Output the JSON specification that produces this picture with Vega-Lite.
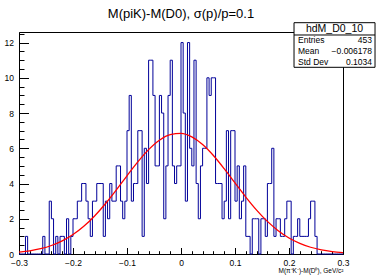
{
  "$schema": "https://vega.github.io/schema/vega-lite/v6.json",
  "autosize": {"type": "none"},
  "width": 324,
  "height": 222,
  "padding": {"left": 19, "top": 32, "right": 33, "bottom": 22},
  "background": "white",
  "title": {"text": "M(piK)-M(D0), σ(p)/p=0.1", "font": "Liberation Sans", "fontSize": 13, "fontWeight": "normal", "color": "black", "anchor": "middle", "frame": "group", "baseline": "alphabetic", "offset": 5.5, "dy": 14},
  "config": {
    "view": {"stroke": "black", "strokeWidth": 1},
    "axis": {"labelFont": "Liberation Sans", "labelFontSize": 8.5, "labelColor": "black", "tickColor": "black", "domainColor": "black", "grid": false, "tickWidth": 1, "domainWidth": 1}
  },
  "datasets": {
    "hist": [
      {"x": -0.3, "n": 0}, {"x": -0.296, "n": 0}, {"x": -0.292, "n": 0}, {"x": -0.288, "n": 1}, {"x": -0.284, "n": 0},
      {"x": -0.28, "n": 0}, {"x": -0.276, "n": 0}, {"x": -0.272, "n": 0}, {"x": -0.268, "n": 0}, {"x": -0.264, "n": 0},
      {"x": -0.26, "n": 0}, {"x": -0.256, "n": 1}, {"x": -0.252, "n": 0}, {"x": -0.248, "n": 0}, {"x": -0.244, "n": 3},
      {"x": -0.24, "n": 2}, {"x": -0.236, "n": 0}, {"x": -0.232, "n": 1}, {"x": -0.228, "n": 0}, {"x": -0.224, "n": 1},
      {"x": -0.22, "n": 1}, {"x": -0.216, "n": 0}, {"x": -0.212, "n": 2}, {"x": -0.208, "n": 0}, {"x": -0.204, "n": 1},
      {"x": -0.2, "n": 2}, {"x": -0.196, "n": 2}, {"x": -0.192, "n": 3}, {"x": -0.188, "n": 3}, {"x": -0.184, "n": 4},
      {"x": -0.18, "n": 4}, {"x": -0.176, "n": 3}, {"x": -0.172, "n": 2}, {"x": -0.168, "n": 1}, {"x": -0.164, "n": 3},
      {"x": -0.16, "n": 3}, {"x": -0.156, "n": 4}, {"x": -0.152, "n": 4}, {"x": -0.148, "n": 4}, {"x": -0.144, "n": 1},
      {"x": -0.14, "n": 3}, {"x": -0.136, "n": 2}, {"x": -0.132, "n": 4}, {"x": -0.128, "n": 3}, {"x": -0.124, "n": 3},
      {"x": -0.12, "n": 5}, {"x": -0.116, "n": 5}, {"x": -0.112, "n": 3}, {"x": -0.108, "n": 2}, {"x": -0.104, "n": 3},
      {"x": -0.1, "n": 7}, {"x": -0.096, "n": 9}, {"x": -0.092, "n": 3}, {"x": -0.088, "n": 4}, {"x": -0.084, "n": 4},
      {"x": -0.08, "n": 7}, {"x": -0.076, "n": 7}, {"x": -0.072, "n": 1}, {"x": -0.068, "n": 6}, {"x": -0.064, "n": 4},
      {"x": -0.06, "n": 11}, {"x": -0.056, "n": 11}, {"x": -0.052, "n": 9}, {"x": -0.048, "n": 5}, {"x": -0.044, "n": 5},
      {"x": -0.04, "n": 9}, {"x": -0.036, "n": 8}, {"x": -0.032, "n": 2}, {"x": -0.028, "n": 5}, {"x": -0.024, "n": 9},
      {"x": -0.02, "n": 11}, {"x": -0.016, "n": 5}, {"x": -0.012, "n": 4}, {"x": -0.008, "n": 5}, {"x": -0.004, "n": 5},
      {"x": 0, "n": 12}, {"x": 0.004, "n": 8}, {"x": 0.008, "n": 3}, {"x": 0.012, "n": 12}, {"x": 0.016, "n": 6},
      {"x": 0.02, "n": 5}, {"x": 0.024, "n": 11}, {"x": 0.028, "n": 4}, {"x": 0.032, "n": 2}, {"x": 0.036, "n": 5},
      {"x": 0.04, "n": 6}, {"x": 0.044, "n": 6}, {"x": 0.048, "n": 10}, {"x": 0.052, "n": 9}, {"x": 0.056, "n": 10},
      {"x": 0.06, "n": 10}, {"x": 0.064, "n": 4}, {"x": 0.068, "n": 4}, {"x": 0.072, "n": 4}, {"x": 0.076, "n": 2},
      {"x": 0.08, "n": 3}, {"x": 0.084, "n": 7}, {"x": 0.088, "n": 2}, {"x": 0.092, "n": 7}, {"x": 0.096, "n": 7},
      {"x": 0.1, "n": 3}, {"x": 0.104, "n": 5}, {"x": 0.108, "n": 2}, {"x": 0.112, "n": 3}, {"x": 0.116, "n": 5},
      {"x": 0.12, "n": 1}, {"x": 0.124, "n": 1}, {"x": 0.128, "n": 0}, {"x": 0.132, "n": 2}, {"x": 0.136, "n": 2},
      {"x": 0.14, "n": 2}, {"x": 0.144, "n": 0}, {"x": 0.148, "n": 2}, {"x": 0.152, "n": 2}, {"x": 0.156, "n": 1},
      {"x": 0.16, "n": 4}, {"x": 0.164, "n": 4}, {"x": 0.168, "n": 6}, {"x": 0.172, "n": 1}, {"x": 0.176, "n": 2},
      {"x": 0.18, "n": 2}, {"x": 0.184, "n": 1}, {"x": 0.188, "n": 1}, {"x": 0.192, "n": 2}, {"x": 0.196, "n": 3},
      {"x": 0.2, "n": 3}, {"x": 0.204, "n": 0}, {"x": 0.208, "n": 1}, {"x": 0.212, "n": 1}, {"x": 0.216, "n": 2},
      {"x": 0.22, "n": 1}, {"x": 0.224, "n": 1}, {"x": 0.228, "n": 1}, {"x": 0.232, "n": 1}, {"x": 0.236, "n": 2},
      {"x": 0.24, "n": 3}, {"x": 0.244, "n": 3}, {"x": 0.248, "n": 1}, {"x": 0.252, "n": 0}, {"x": 0.256, "n": 0},
      {"x": 0.26, "n": 0}, {"x": 0.264, "n": 0}, {"x": 0.268, "n": 0}, {"x": 0.272, "n": 0}, {"x": 0.276, "n": 0},
      {"x": 0.28, "n": 0}, {"x": 0.284, "n": 0}, {"x": 0.288, "n": 0}, {"x": 0.292, "n": 0}, {"x": 0.296, "n": 0},
      {"x": 0.3, "n": 0}
    ],
    "fit": [
      {"x": -0.3, "f": 0.105}, {"x": -0.28, "f": 0.181}, {"x": -0.26, "f": 0.301}, {"x": -0.24, "f": 0.482},
      {"x": -0.22, "f": 0.743}, {"x": -0.2, "f": 1.102}, {"x": -0.18, "f": 1.572}, {"x": -0.16, "f": 2.159},
      {"x": -0.14, "f": 2.853}, {"x": -0.12, "f": 3.628}, {"x": -0.1, "f": 4.44}, {"x": -0.08, "f": 5.228},
      {"x": -0.06, "f": 5.923}, {"x": -0.04, "f": 6.458}, {"x": -0.02, "f": 6.776}, {"x": 0, "f": 6.842},
      {"x": 0.02, "f": 6.647}, {"x": 0.04, "f": 6.215}, {"x": 0.06, "f": 5.591}, {"x": 0.08, "f": 4.841},
      {"x": 0.1, "f": 4.033}, {"x": 0.12, "f": 3.233}, {"x": 0.14, "f": 2.494}, {"x": 0.16, "f": 1.851},
      {"x": 0.18, "f": 1.323}, {"x": 0.2, "f": 0.909}, {"x": 0.22, "f": 0.601}, {"x": 0.24, "f": 0.383},
      {"x": 0.26, "f": 0.234}, {"x": 0.28, "f": 0.138}, {"x": 0.3, "f": 0.078}
    ],
    "stats": [
      {"label": "Entries", "value": "453"},
      {"label": "Mean", "value": "−0.006178"},
      {"label": "Std Dev", "value": "0.1034"}
    ],
    "name": [{"name": "hdM_D0_10"}]
  },
  "resolve": {"axis": {"x": "independent", "y": "independent"}},
  "layer": [
    {
      "data": {"name": "hist"},
      "mark": {"type": "line", "interpolate": "step-after", "color": "#000099", "strokeWidth": 1},
      "encoding": {
        "x": {"field": "x", "type": "quantitative", "scale": {"domain": [-0.3, 0.3], "nice": false, "zero": false},
          "axis": {"orient": "bottom", "values": [-0.3, -0.2, -0.1, 0, 0.1, 0.2, 0.3], "format": ".1~f", "tickSize": -6.5, "labelPadding": 11, "labelFlush": false, "labelOverlap": false,
            "title": "M(π⁺K⁻)-M(D⁰), GeV/c²", "titleAnchor": "end", "titleAlign": "right", "titleFont": "Liberation Sans", "titleFontSize": 6.5, "titleFontWeight": "normal", "titleColor": "black", "titlePadding": 0}},
        "y": {"field": "n", "type": "quantitative", "scale": {"domain": [0, 12.6], "nice": false},
          "axis": {"orient": "left", "values": [0, 2, 4, 6, 8, 10, 12], "format": "d", "tickSize": -9.5, "labelPadding": 15, "title": null}}
      }
    },
    {
      "data": {"name": "fit"},
      "mark": {"type": "line", "interpolate": "monotone", "color": "#ff0000", "strokeWidth": 1.3},
      "encoding": {
        "x": {"field": "x", "type": "quantitative",
          "axis": {"orient": "bottom", "values": [-0.28, -0.26, -0.24, -0.22, -0.18, -0.16, -0.14, -0.12, -0.08, -0.06, -0.04, -0.02, 0.02, 0.04, 0.06, 0.08, 0.12, 0.14, 0.16, 0.18, 0.22, 0.24, 0.26, 0.28], "tickSize": -3.3, "labels": false, "domain": false, "title": null}},
        "y": {"field": "f", "type": "quantitative",
          "axis": {"orient": "left", "values": [0.5, 1, 1.5, 2.5, 3, 3.5, 4.5, 5, 5.5, 6.5, 7, 7.5, 8.5, 9, 9.5, 10.5, 11, 11.5, 12.5], "tickSize": -5, "labels": false, "domain": false, "title": null}}
      }
    },
    {
      "data": {"name": "name"},
      "mark": {"type": "rect", "fill": "white", "stroke": "black", "strokeWidth": 1},
      "encoding": {
        "x": {"datum": 0.2093, "type": "quantitative", "axis": null},
        "x2": {"datum": 0.3593},
        "y": {"datum": 13.128, "type": "quantitative", "axis": null},
        "y2": {"datum": 10.596}
      }
    },
    {
      "data": {"name": "name"},
      "mark": {"type": "rule", "stroke": "black", "strokeWidth": 1},
      "encoding": {
        "x": {"datum": 0.2093, "type": "quantitative", "axis": null},
        "x2": {"datum": 0.3593},
        "y": {"datum": 12.43, "type": "quantitative", "axis": null}
      }
    },
    {
      "data": {"name": "name"},
      "mark": {"type": "text", "font": "Liberation Sans", "fontSize": 10.5, "color": "black", "align": "center", "baseline": "middle"},
      "encoding": {
        "text": {"field": "name"},
        "x": {"datum": 0.2843, "type": "quantitative", "axis": null},
        "y": {"datum": 12.77, "type": "quantitative", "axis": null}
      }
    },
    {
      "data": {"name": "stats"},
      "transform": [{"filter": "datum.label === 'Entries'"}],
      "layer": [
        {"mark": {"type": "text", "font": "Liberation Sans", "fontSize": 8.5, "color": "black", "align": "left", "baseline": "middle"},
          "encoding": {"text": {"field": "label"}, "x": {"datum": 0.2167, "type": "quantitative", "axis": null}, "y": {"datum": 12.146, "type": "quantitative", "axis": null}}},
        {"mark": {"type": "text", "font": "Liberation Sans", "fontSize": 8.5, "color": "black", "align": "right", "baseline": "middle"},
          "encoding": {"text": {"field": "value"}, "x": {"datum": 0.3537, "type": "quantitative", "axis": null}, "y": {"datum": 12.146, "type": "quantitative", "axis": null}}}
      ]
    },
    {
      "data": {"name": "stats"},
      "transform": [{"filter": "datum.label === 'Mean'"}],
      "layer": [
        {"mark": {"type": "text", "font": "Liberation Sans", "fontSize": 8.5, "color": "black", "align": "left", "baseline": "middle"},
          "encoding": {"text": {"field": "label"}, "x": {"datum": 0.2167, "type": "quantitative", "axis": null}, "y": {"datum": 11.539, "type": "quantitative", "axis": null}}},
        {"mark": {"type": "text", "font": "Liberation Sans", "fontSize": 8.5, "color": "black", "align": "right", "baseline": "middle"},
          "encoding": {"text": {"field": "value"}, "x": {"datum": 0.3537, "type": "quantitative", "axis": null}, "y": {"datum": 11.539, "type": "quantitative", "axis": null}}}
      ]
    },
    {
      "data": {"name": "stats"},
      "transform": [{"filter": "datum.label === 'Std Dev'"}],
      "layer": [
        {"mark": {"type": "text", "font": "Liberation Sans", "fontSize": 8.5, "color": "black", "align": "left", "baseline": "middle"},
          "encoding": {"text": {"field": "label"}, "x": {"datum": 0.2167, "type": "quantitative", "axis": null}, "y": {"datum": 10.914, "type": "quantitative", "axis": null}}},
        {"mark": {"type": "text", "font": "Liberation Sans", "fontSize": 8.5, "color": "black", "align": "right", "baseline": "middle"},
          "encoding": {"text": {"field": "value"}, "x": {"datum": 0.3537, "type": "quantitative", "axis": null}, "y": {"datum": 10.914, "type": "quantitative", "axis": null}}}
      ]
    }
  ]
}
